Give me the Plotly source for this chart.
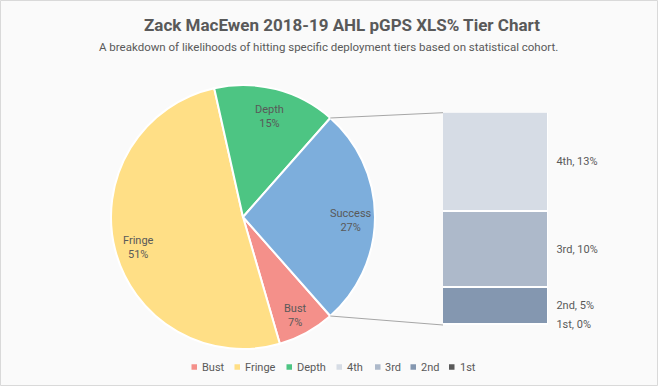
import math
import plotly.graph_objects as go

# ---------------- data ----------------
pie_labels = ["Bust", "Fringe", "Depth"]
pie_values = [7, 51, 15]
pie_colors = ["#F4908A", "#FFDF86", "#4DC583"]
other_label = "Success"
other_color = "#7DAEDC"
tier_labels = ["4th", "3rd", "2nd", "1st"]
tier_values = [12.6, 9.7, 4.7, 0.0]
tier_colors = ["#D6DCE5", "#ADB9CA", "#8497B0", "#595959"]
title_text = "Zack MacEwen 2018-19 AHL pGPS XLS% Tier Chart"
subtitle_text = "A breakdown of likelihoods of hitting specific deployment tiers based on statistical cohort."

# ---------------- layout constants ----------------
W, H = 658, 386
FONT = "Roboto"
TXT = "#595959"
BG = "#FAFAFA"
pie_cx, pie_cy, pie_r = 243, 217, 132          # px
bar_left_px, axis_right_px = 443, 653
bar_top_px, bar_bottom_px = 112.7, 325

def px_x(x):
    return x / W

def px_y(y):
    return 1 - y / H

other_value = sum(tier_values)
all_labels = pie_labels + [other_label]
all_values = pie_values + [other_value]
all_colors = pie_colors + [other_color]
total = sum(all_values)

# other slice centred at 3 o'clock; first slice starts right after it (clockwise)
rotation = 90 + other_value / total * 180

fig = go.Figure()

fig.add_trace(go.Pie(
    labels=all_labels, values=all_values, sort=False, direction="clockwise",
    rotation=rotation, textinfo="none", hoverinfo="label+percent",
    marker=dict(colors=all_colors, line=dict(color="white", width=2)),
    domain=dict(x=[px_x(pie_cx - pie_r), px_x(pie_cx + pie_r)],
                y=[px_y(pie_cy + pie_r), px_y(pie_cy - pie_r)]),
    showlegend=False,
))

# stacked bar of the "other" slice (bottom = last tier)
for name, val, col in reversed(list(zip(tier_labels, tier_values, tier_colors))):
    fig.add_trace(go.Bar(
        x=[0.5], y=[val], width=1, name=name, marker=dict(color=col, line=dict(color="white", width=1.5)),
        showlegend=False, hoverinfo="name+y",
    ))

# tier labels to the right of the bar
cum = 0
lab_y, lab_t = [], []
for name, val in reversed(list(zip(tier_labels, tier_values))):
    lab_y.append(cum + val / 2)
    lab_t.append(f"{name}, {val:.0f}%")
    cum += val
fig.add_trace(go.Scatter(
    x=[1.08] * len(lab_y), y=lab_y, mode="text", text=lab_t, textposition="middle right",
    textfont=dict(family=FONT, size=11, color=TXT), showlegend=False, hoverinfo="skip",
    cliponaxis=False,
))

annotations = []
shapes = []

# pie data labels
angle = rotation
for lab, val in zip(all_labels, all_values):
    span = val / total * 360
    mid = math.radians(angle + span / 2)
    rr = pie_r * 0.82
    x = pie_cx + rr * math.sin(mid)
    y = pie_cy - rr * math.cos(mid) + 4
    annotations.append(dict(
        x=px_x(x), y=px_y(y), xref="paper", yref="paper", showarrow=False,
        text=f"{lab}<br>{val / total * 100:.0f}%", align="center",
        font=dict(family=FONT, size=11, color=TXT), xanchor="center", yanchor="middle",
    ))
    angle += span

# connector lines from the pie's other slice to the bar
a_start = math.radians(rotation - other_value / total * 360)
a_end = math.radians(rotation)
for a, by in ((a_start, bar_top_px), (a_end, bar_bottom_px)):
    x0 = pie_cx + pie_r * math.sin(a)
    y0 = pie_cy - pie_r * math.cos(a)
    shapes.append(dict(type="line", xref="paper", yref="paper",
                       x0=px_x(x0), y0=px_y(y0), x1=px_x(bar_left_px), y1=px_y(by),
                       line=dict(color="#A6A6A6", width=1)))

# title & subtitle
annotations.append(dict(x=px_x(342), y=px_y(25), xref="paper", yref="paper", showarrow=False,
                        text=f"<b>{title_text}</b>", font=dict(family=FONT, size=17, color=TXT),
                        xanchor="center", yanchor="middle"))
annotations.append(dict(x=px_x(328), y=px_y(47), xref="paper", yref="paper", showarrow=False,
                        text=subtitle_text, font=dict(family=FONT, size=11.5, color=TXT),
                        xanchor="center", yanchor="middle"))

# custom compact legend
legend_names = pie_labels + tier_labels
legend_colors = pie_colors + tier_colors
legend_x = [191.5, 234.5, 286.5, 336.5, 375, 410.5, 449]
legend_y = 367
for name, col, lx in zip(legend_names, legend_colors, legend_x):
    shapes.append(dict(type="rect", xref="paper", yref="paper",
                       x0=px_x(lx), x1=px_x(lx + 5.5), y0=px_y(legend_y + 2.75), y1=px_y(legend_y - 2.75),
                       fillcolor=col, line=dict(width=0)))
    annotations.append(dict(x=px_x(lx + 8.5), y=px_y(legend_y), xref="paper", yref="paper",
                            showarrow=False, text=name, xanchor="left", yanchor="middle",
                            font=dict(family=FONT, size=11, color=TXT)))

# outer border
shapes.append(dict(type="rect", xref="paper", yref="paper",
                   x0=0.5 / W, x1=1 - 0.5 / W, y0=0.5 / H, y1=1 - 0.5 / H,
                   line=dict(color="#D9D9D9", width=1), fillcolor="rgba(0,0,0,0)", layer="above"))

fig.update_layout(
    width=W, height=H, margin=dict(l=0, r=0, t=0, b=0),
    paper_bgcolor=BG, plot_bgcolor=BG, barmode="stack", bargap=0,
    xaxis=dict(domain=[px_x(bar_left_px), px_x(axis_right_px)], range=[0, 2], visible=False, fixedrange=True),
    yaxis=dict(domain=[px_y(bar_bottom_px), px_y(bar_top_px)], range=[0, other_value], visible=False, fixedrange=True),
    annotations=annotations, shapes=shapes, showlegend=False,
    font=dict(family=FONT, color=TXT),
)

fig.write_html(
    "out.html",
    config={"displayModeBar": False},
    post_script="document.body.style.margin='0';document.body.style.padding='0';document.body.style.overflow='hidden';",
)
